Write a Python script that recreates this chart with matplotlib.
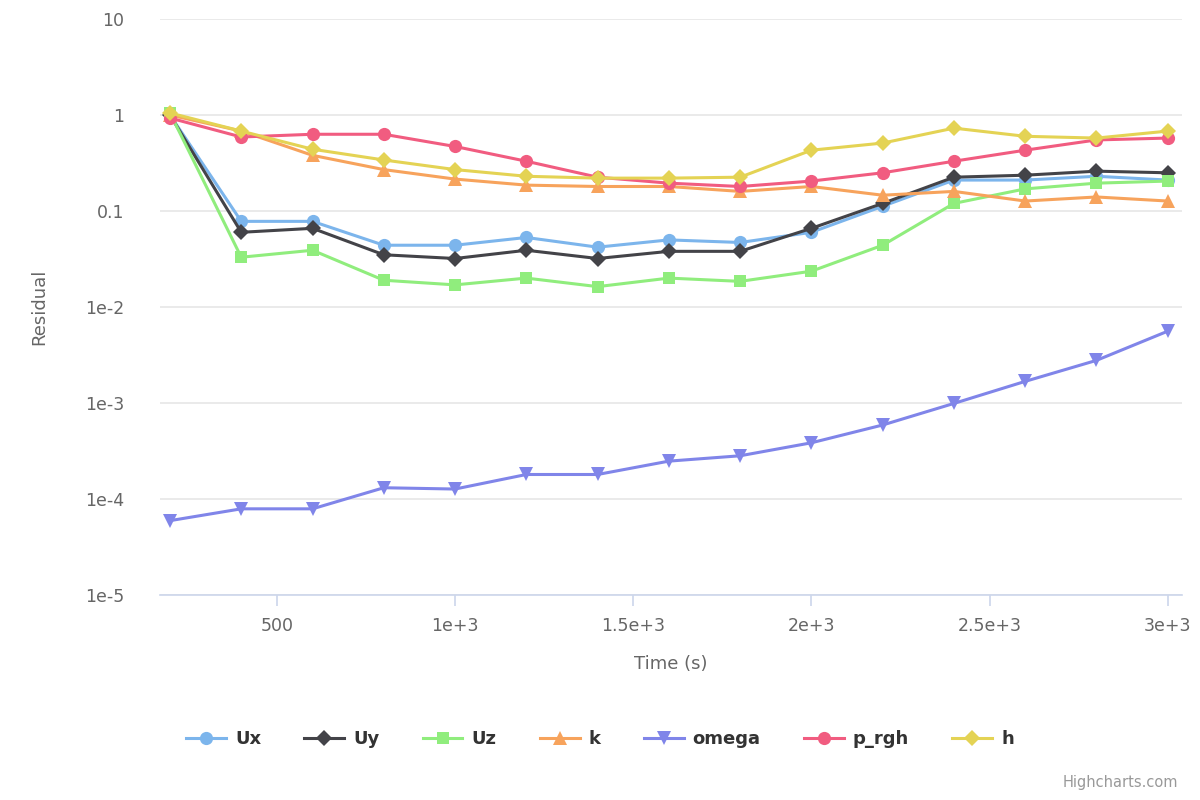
import numpy as np
import matplotlib as mpl
import matplotlib.pyplot as plt

mpl.use("Agg")

# time steps (s)
time = [200, 400, 600, 800, 1000, 1200, 1400, 1600, 1800, 2000, 2200, 2400, 2600, 2800, 3000]

# residuals
ux = [1.0, 0.078, 0.078, 0.044, 0.044, 0.053, 0.042, 0.050, 0.047, 0.060, 0.112, 0.21, 0.21, 0.23, 0.21]
uy = [1.0, 0.060, 0.066, 0.035, 0.032, 0.039, 0.032, 0.038, 0.038, 0.066, 0.12, 0.225, 0.236, 0.26, 0.25]
uz = [1.05, 0.033, 0.039, 0.019, 0.017, 0.020, 0.0163, 0.020, 0.0185, 0.0236, 0.044, 0.12, 0.17, 0.195, 0.205]
k = [1.0, 0.68, 0.38, 0.27, 0.215, 0.186, 0.18, 0.18, 0.16, 0.18, 0.146, 0.16, 0.127, 0.14, 0.127]
omega = [5.95e-5, 7.9e-5, 7.9e-5, 1.31e-4, 1.27e-4, 1.80e-4, 1.80e-4, 2.48e-4, 2.82e-4,
         3.85e-4, 5.9e-4, 9.9e-4, 1.68e-3, 2.78e-3, 5.6e-3]
p_rgh = [0.93, 0.59, 0.63, 0.63, 0.47, 0.33, 0.225, 0.195, 0.18, 0.205, 0.25, 0.33, 0.43, 0.55, 0.575]
h = [1.05, 0.68, 0.44, 0.34, 0.27, 0.23, 0.22, 0.22, 0.225, 0.43, 0.51, 0.73, 0.60, 0.575, 0.68]

series_names = ["Ux", "Uy", "Uz", "k", "omega", "p_rgh", "h"]
series_vals = [ux, uy, uz, k, omega, p_rgh, h]
colors = ["#7cb5ec", "#434348", "#90ed7d", "#f7a35c", "#8085e9", "#f15c80", "#e4d354"]
markers = ["o", "D", "s", "^", "v", "o", "D"]
msizes = [9.5, 8, 9, 9.5, 9.5, 9.5, 8]

y_ticks = [1e1, 1e0, 1e-1, 1e-2, 1e-3, 1e-4, 1e-5]
y_labels = ["10", "1", "0.1", "1e-2", "1e-3", "1e-4", "1e-5"]
x_ticks = [500, 1000, 1500, 2000, 2500, 3000]
x_labels = ["500", "1e+3", "1.5e+3", "2e+3", "2.5e+3", "3e+3"]

plt.rcParams["font.family"] = ["DejaVu Sans"]

fig = plt.figure(figsize=(12, 8), dpi=100)
ax = fig.add_axes([160 / 1200, 1 - 595 / 800, (1182 - 160) / 1200, (595 - 19) / 800])

for i, (name, vals) in enumerate(zip(series_names, series_vals)):
    ax.plot(time, vals, color=colors[i], marker=markers[i], markersize=msizes[i],
            linewidth=2.2, label=name, zorder=3 + i, markeredgewidth=0)

ax.set_yscale("log")
ax.set_ylim(1e-5, 10)
ax.set_xlim(172, 3040)

ax.yaxis.set_major_locator(mpl.ticker.FixedLocator(y_ticks))
ax.yaxis.set_major_formatter(mpl.ticker.FixedFormatter(y_labels))
ax.yaxis.set_minor_locator(mpl.ticker.NullLocator())
ax.set_xticks(x_ticks)
ax.set_xticklabels(x_labels)

ax.grid(axis="y", color="#e6e6e6", linewidth=1.2, zorder=0)
ax.set_axisbelow(True)
for side in ["top", "right", "left"]:
    ax.spines[side].set_visible(False)
ax.spines["bottom"].set_color("#ccd6eb")
ax.spines["bottom"].set_linewidth(1.2)

ax.tick_params(axis="y", length=0, pad=26, labelsize=12.5, labelcolor="#666666")
ax.tick_params(axis="x", length=8, width=1.2, color="#ccd6eb", pad=8,
               labelsize=12.5, labelcolor="#666666")

ax.set_xlabel("Time (s)", fontsize=13, color="#666666", labelpad=14)
ax.set_ylabel("Residual", fontsize=13, color="#666666", labelpad=26)

leg = fig.legend(loc="center", bbox_to_anchor=(0.5, 1 - 739 / 800), ncol=7,
                 frameon=False, handlelength=2.2, columnspacing=2.4, handletextpad=0.5,
                 prop={"size": 13, "weight": "bold"})
for txt in leg.get_texts():
    txt.set_color("#333333")

fig.text(1178 / 1200, 1 - 783 / 800, "Highcharts.com", ha="right", va="center",
         fontsize=10.5, color="#999999")

fig.savefig("out.png", dpi=100, facecolor="white")
